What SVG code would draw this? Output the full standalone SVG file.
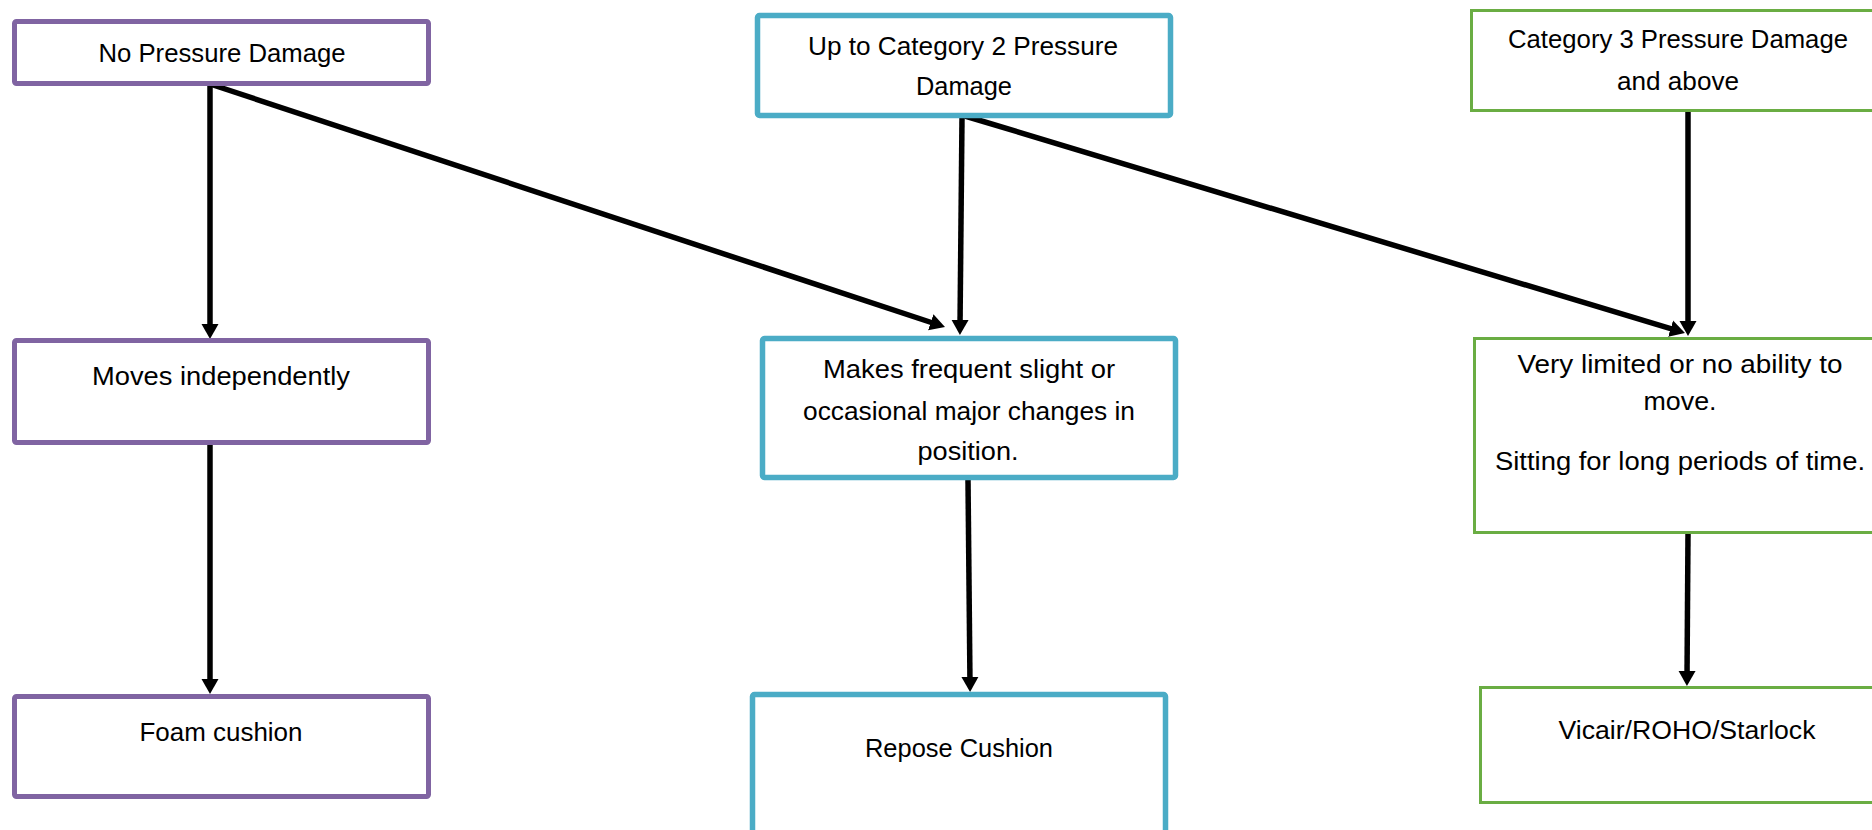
<svg xmlns="http://www.w3.org/2000/svg" width="1872" height="830" viewBox="0 0 1872 830">
<style>
.box{fill:#ffffff}
.purple{stroke:#8064A2;stroke-width:5}
.teal{stroke:#4BACC6;stroke-width:5.5}
.green{stroke:#6AAD43;stroke-width:3}
.t{font-family:"Liberation Sans",Arial,sans-serif;font-size:26px;fill:#000000;text-anchor:middle}
.c{stroke:#000000;stroke-width:5.5;fill:none;marker-end:url(#ah)}
</style>
<defs>
<marker id="ah" markerUnits="userSpaceOnUse" markerWidth="18" markerHeight="20" viewBox="0 -10 18 20" refX="7" refY="0" orient="auto">
<path d="M0,-8.5 L15,0 L0,8.5 z" fill="#000000"/>
</marker>
</defs>
<rect width="1872" height="830" fill="#ffffff"/>
<g id="connectors">
<line class="c" x1="210" y1="86" x2="210" y2="331"/>
<line class="c" x1="210" y1="84" x2="937.4" y2="324.5"/>
<line class="c" x1="962" y1="118" x2="960" y2="327"/>
<line class="c" x1="965" y1="116" x2="1677.3" y2="330.7"/>
<line class="c" x1="1688" y1="112" x2="1688" y2="328"/>
<line class="c" x1="210" y1="445" x2="210" y2="686"/>
<line class="c" x1="968" y1="480" x2="970" y2="684"/>
<line class="c" x1="1688" y1="534" x2="1687" y2="678"/>
</g>
<g id="node-no-pressure">
<rect class="box purple" x="14.5" y="21.5" width="414" height="62" rx="2"/>
<text class="t" x="222" y="62" textLength="247" lengthAdjust="spacingAndGlyphs">No Pressure Damage</text>
</g>
<g id="node-cat2">
<rect class="box teal" x="757.5" y="15.5" width="413" height="100" rx="2"/>
<text class="t" x="963" y="55" textLength="310" lengthAdjust="spacingAndGlyphs">Up to Category 2 Pressure</text>
<text class="t" x="964" y="95" textLength="96" lengthAdjust="spacingAndGlyphs">Damage</text>
</g>
<g id="node-cat3">
<rect class="box green" x="1471.5" y="10.5" width="420" height="100"/>
<text class="t" x="1678" y="48" textLength="340" lengthAdjust="spacingAndGlyphs">Category 3 Pressure Damage</text>
<text class="t" x="1678" y="90" textLength="122" lengthAdjust="spacingAndGlyphs">and above</text>
</g>
<g id="node-moves">
<rect class="box purple" x="14.5" y="340.5" width="414" height="102" rx="2"/>
<text class="t" x="221" y="385" textLength="258" lengthAdjust="spacingAndGlyphs">Moves independently</text>
</g>
<g id="node-frequent">
<rect class="box teal" x="762.5" y="338.5" width="413" height="139" rx="2"/>
<text class="t" x="969" y="378" textLength="292" lengthAdjust="spacingAndGlyphs">Makes frequent slight or</text>
<text class="t" x="969" y="420" textLength="332" lengthAdjust="spacingAndGlyphs">occasional major changes in</text>
<text class="t" x="968" y="460" textLength="101" lengthAdjust="spacingAndGlyphs">position.</text>
</g>
<g id="node-limited">
<rect class="box green" x="1474.5" y="338.5" width="420" height="194"/>
<text class="t" x="1680" y="373" textLength="325" lengthAdjust="spacingAndGlyphs">Very limited or no ability to</text>
<text class="t" x="1680" y="410" textLength="73" lengthAdjust="spacingAndGlyphs">move.</text>
<text class="t" x="1680" y="470" textLength="370" lengthAdjust="spacingAndGlyphs">Sitting for long periods of time.</text>
</g>
<g id="node-foam">
<rect class="box purple" x="14.5" y="696.5" width="414" height="100" rx="2"/>
<text class="t" x="221" y="741" textLength="163" lengthAdjust="spacingAndGlyphs">Foam cushion</text>
</g>
<g id="node-repose">
<rect class="box teal" x="752.5" y="694.5" width="413" height="160" rx="2"/>
<text class="t" x="959" y="757" textLength="188" lengthAdjust="spacingAndGlyphs">Repose Cushion</text>
</g>
<g id="node-vicair">
<rect class="box green" x="1480.5" y="687.5" width="420" height="115"/>
<text class="t" x="1687" y="739" textLength="257" lengthAdjust="spacingAndGlyphs">Vicair/ROHO/Starlock</text>
</g>
</svg>
